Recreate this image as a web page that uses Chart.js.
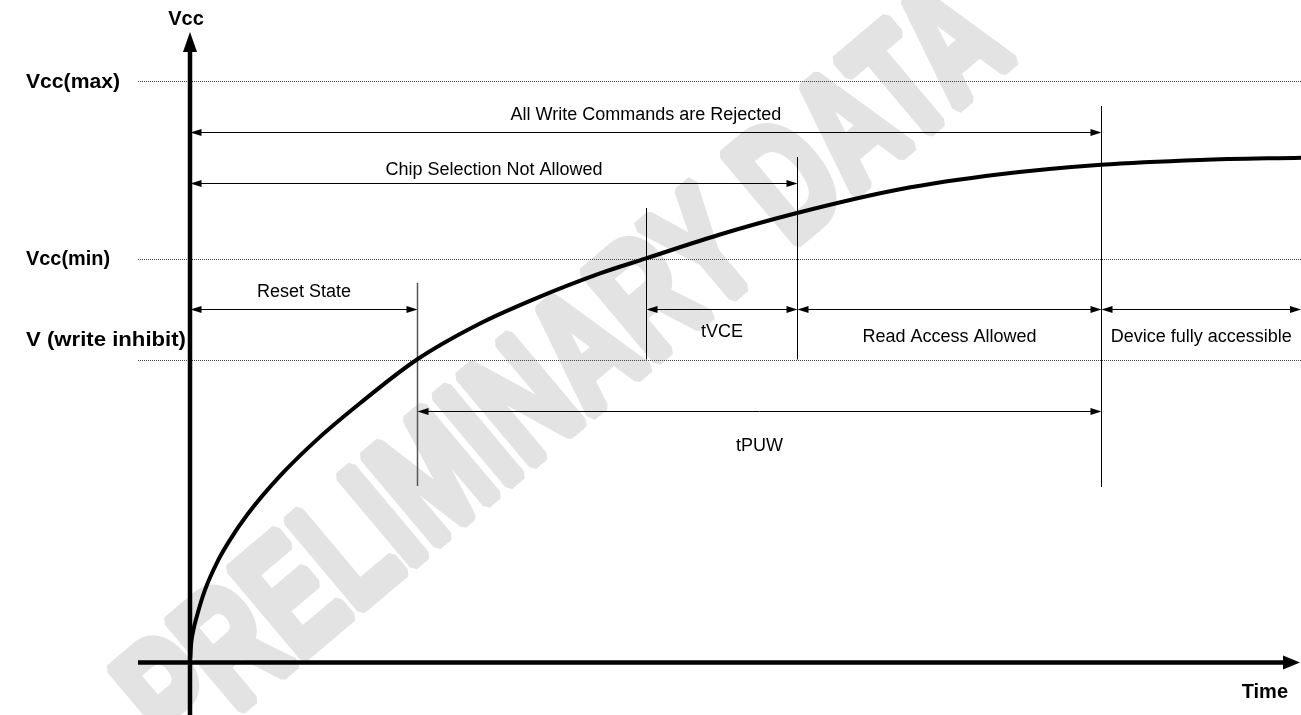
<!DOCTYPE html>
<html>
<head>
<meta charset="utf-8">
<script src="https://cdn.jsdelivr.net/npm/chart.js@4.4.0/dist/chart.umd.min.js"></script>
<style>
html, body { margin: 0; padding: 0; background: #fff; }
#wrap { width: 1301px; height: 715px; position: relative; }
</style>
</head>
<body>
<div id="wrap"><canvas id="powerUpChart"></canvas></div>
<script>
// supply ramp (time in arbitrary units, Vcc in volts)
const curveTime = [0, 0.01, 0.03, 0.07, 0.15, 0.27, 0.40, 0.57, 0.90, 1.27, 1.70, 2.27, 2.90, 3.43, 4.10, 4.56, 5.30, 6.07, 7.10, 8.10, 9.11, 10.10, 11.11]
const curveVcc = [0, 0.105, 0.190, 0.290, 0.450, 0.619, 0.759, 0.913, 1.155, 1.380, 1.605, 1.876, 2.099, 2.247, 2.409, 2.502, 2.650, 2.783, 2.930, 3.023, 3.082, 3.112, 3.126]

// threshold levels
const levelLabels = ['Vcc(max)', 'Vcc(min)', 'V (write inhibit)']
const levelVcc = [3.6, 2.5, 1.876]

// vertical timing markers
const markerTime = [2.27, 4.56, 6.07, 9.11]
const markerFrom = [1.093, 1.876, 1.876, 1.087]
const markerTo = [2.350, 2.814, 3.130, 3.446]

// timing intervals
const spanLabels = [
    'All Write Commands are Rejected',
    'Chip Selection Not Allowed',
    'Reset State',
    'tVCE',
    'Read Access Allowed',
    'Device fully accessible',
    'tPUW'
]
const spanStart = [0, 0, 0, 4.56, 6.07, 9.11, 2.27]
const spanEnd = [9.11, 6.07, 2.27, 6.07, 9.11, 11.11, 9.11]
const spanVcc = [3.285, 2.971, 2.189, 2.189, 2.189, 2.189, 1.559]

const FONT = '"Liberation Sans", Arial, sans-serif'

function arrowHead(ctx, x, y, dir, len, half) {
    ctx.beginPath()
    ctx.moveTo(x, y)
    ctx.lineTo(x - dir * len, y - half)
    ctx.lineTo(x - dir * len, y + half)
    ctx.closePath()
    ctx.fill()
}

const diagramPlugin = {
    id: 'diagram',
    beforeDatasetsDraw(chart) {
        const ctx = chart.ctx
        const xs = chart.scales.x
        const ys = chart.scales.y
        const px = v => xs.getPixelForValue(v)
        const py = v => ys.getPixelForValue(v)

        ctx.save()

        // watermark
        ctx.save()
        ctx.translate(chart.width * 0.43, chart.height * 0.51)
        ctx.rotate(-40 * Math.PI / 180)
        ctx.scale(0.68, 1)
        ctx.font = 'bold 165px ' + FONT
        ctx.fillStyle = '#e3e3e3'
        ctx.strokeStyle = '#e3e3e3'
        ctx.lineWidth = 12
        ctx.lineJoin = 'bevel'
        ctx.textAlign = 'center'
        ctx.textBaseline = 'alphabetic'
        ctx.fillText('PRELIMINARY DATA', 0, 59)
        ctx.strokeText('PRELIMINARY DATA', 0, 59)
        ctx.restore()

        // dotted threshold levels + labels
        ctx.strokeStyle = '#444'
        ctx.lineWidth = 1
        ctx.setLineDash([1, 1])
        levelVcc.forEach(v => {
            const y = Math.round(py(v)) + 0.5
            ctx.beginPath()
            ctx.moveTo(px(-0.52), y)
            ctx.lineTo(chart.width, y)
            ctx.stroke()
        })
        ctx.setLineDash([])

        ctx.fillStyle = '#000'
        ctx.font = 'bold 21px ' + FONT
        ctx.textAlign = 'left'
        ctx.textBaseline = 'middle'
        const levelOffset = [1, 0, -19]
        const levelWidth = [94, 84, 160]
        levelLabels.forEach((t, i) => {
            const w = ctx.measureText(t).width
            ctx.save()
            ctx.translate(26, py(levelVcc[i]) + levelOffset[i])
            ctx.scale(levelWidth[i] / w, 1)
            ctx.fillText(t, 0, 0)
            ctx.restore()
        })

        // axes
        ctx.strokeStyle = '#000'
        ctx.lineWidth = 4.5
        ctx.beginPath()
        ctx.moveTo(px(0), chart.height)
        ctx.lineTo(px(0), py(3.78))
        ctx.stroke()
        ctx.beginPath()
        ctx.moveTo(px(0), py(3.904))
        ctx.lineTo(px(0) - 7, py(3.78))
        ctx.lineTo(px(0) + 7, py(3.78))
        ctx.closePath()
        ctx.fill()

        ctx.beginPath()
        ctx.moveTo(px(-0.52), py(0))
        ctx.lineTo(px(10.95), py(0))
        ctx.stroke()
        arrowHead(ctx, px(11.10), py(0), 1, 17, 7)

        ctx.font = 'bold 20px ' + FONT
        ctx.textAlign = 'center'
        ctx.fillText('Vcc', px(0) - 4, 19)
        ctx.textAlign = 'right'
        ctx.fillText('Time', 1288, py(0) + 30)

        // vertical markers
        markerTime.forEach((t, i) => {
            const x = Math.round(px(t)) + 0.5
            ctx.strokeStyle = i === 0 ? '#555' : '#000'
            ctx.lineWidth = i === 0 ? 1.5 : 1
            ctx.beginPath()
            ctx.moveTo(x, py(markerFrom[i]))
            ctx.lineTo(x, py(markerTo[i]))
            ctx.stroke()
        })

        // interval arrows
        ctx.strokeStyle = '#000'
        ctx.lineWidth = 1
        ctx.font = '18px ' + FONT
        ctx.textAlign = 'center'
        ctx.textBaseline = 'middle'
        const labelOffset = [-17, -13.5, -17, 23, 27.5, 27.5, 35]
        spanLabels.forEach((label, i) => {
            const x0 = Math.round(px(spanStart[i])) + 0.5
            const x1 = Math.min(Math.round(px(spanEnd[i])) + 0.5, chart.width)
            const y = Math.round(py(spanVcc[i])) + 0.5
            ctx.beginPath()
            ctx.moveTo(x0 + 2, y)
            ctx.lineTo(x1 - 2, y)
            ctx.stroke()
            arrowHead(ctx, x0, y, -1, 11, 3.5)
            arrowHead(ctx, x1, y, 1, 11, 3.5)
            ctx.fillText(label, (x0 + x1) / 2, y + labelOffset[i])
        })

        ctx.restore()
    }
}

const curveData = {
    datasets: [{
        label: 'Vcc',
        data: curveTime.map((t, i) => ({ x: t, y: curveVcc[i] })),
        borderColor: '#000',
        borderWidth: 4,
        pointRadius: 0,
        fill: false,
        cubicInterpolationMode: 'monotone',
        clip: false
    }]
}

const curveConfig = {
    type: 'line',
    data: curveData,
    options: {
        responsive: true,
        maintainAspectRatio: false,
        animation: false,
        layout: { padding: 0 },
        scales: {
            x: { type: 'linear', min: -1.90, max: 11.11, display: false },
            y: { type: 'linear', min: -0.325, max: 4.102, display: false }
        },
        plugins: {
            legend: { display: false },
            tooltip: { enabled: false }
        }
    },
    plugins: [diagramPlugin]
}

const powerUpChart = new Chart(
    document.getElementById('powerUpChart'),
    curveConfig
)
</script>
</body>
</html>
